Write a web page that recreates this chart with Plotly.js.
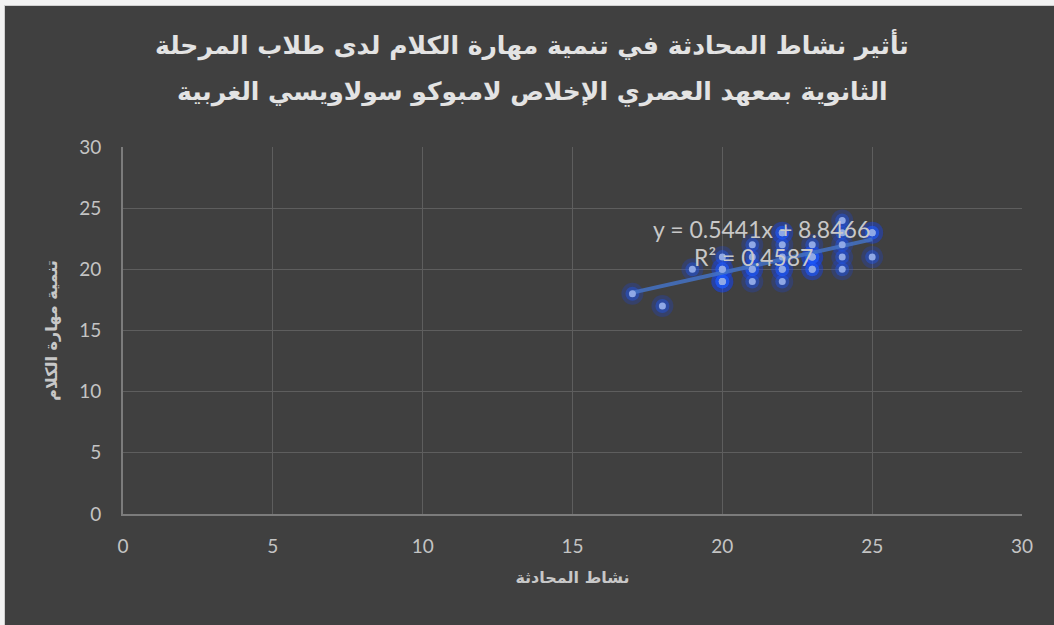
<!DOCTYPE html>
<html><head><meta charset="utf-8">
<script src="https://cdn.plot.ly/plotly-3.0.1.min.js"></script>
<style>
html,body{margin:0;padding:0;background:#f2f2f2;width:1054px;height:625px;overflow:hidden;}
#chart{position:absolute;left:5px;top:6px;width:1049px;height:619px;}
#edge{position:absolute;left:4px;top:5px;width:1050px;height:620px;border-left:1px solid #cfcfcf;border-top:1px solid #cfcfcf;box-sizing:border-box;}
</style></head>
<body><div id="edge"></div><div id="chart"></div>
<script>
const conversationActivity = [17,18,19,20,20,20,20,20,20,21,21,21,21,21,22,22,22,22,22,22,22,23,23,23,23,23,23,24,24,24,24,24,25,25,25];
const speakingSkill       = [18,17,20,21,20,20,19,19,19,22,21,20,20,19,23,23,22,21,20,20,19,22,21,21,21,20,20,24,23,22,21,20,23,23,21];
const trendSlope = 0.5441;
const trendIntercept = 8.8466;
const trendR2 = 0.4587;
const titleLines = ['تأثير نشاط المحادثة في تنمية مهارة الكلام لدى طلاب المرحلة',
                    'الثانوية بمعهد العصري الإخلاص لامبوكو سولاويسي الغربية'];
const xTitle = 'نشاط المحادثة';
const yTitle = 'تنمية مهارة الكلام';

const xMin = Math.min(...conversationActivity), xMax = Math.max(...conversationActivity);
const trendX = [xMin, xMax];
const trendY = trendX.map(v => trendSlope*v + trendIntercept);

const traces = [
  {x: conversationActivity, y: speakingSkill, mode:'markers', type:'scatter',
   marker:{size:22, color:'rgba(20,70,255,0.22)'}, hoverinfo:'skip', showlegend:false},
  {x: conversationActivity, y: speakingSkill, mode:'markers', type:'scatter',
   marker:{size:14, color:'rgba(30,90,255,0.38)'}, hoverinfo:'skip', showlegend:false},
  {x: trendX, y: trendY, mode:'lines', type:'scatter',
   line:{color:'rgba(68,114,196,0.85)', width:4}, showlegend:false},
  {x: conversationActivity, y: speakingSkill, mode:'markers', type:'scatter',
   marker:{size:7, color:'#8fa8e6'}, showlegend:false}
];

const titleFont = {family:'DejaVu Sans', size:25, color:'#e3e3e3', weight:'bold'};
const layout = {
  width:1049, height:619,
  paper_bgcolor:'#404040', plot_bgcolor:'#404040',
  margin:{l:118, r:32, t:141, b:111},
  xaxis:{range:[0,30], dtick:5, showgrid:true, gridcolor:'#5e5e5e', gridwidth:1,
         zeroline:false, showline:true, linecolor:'#7c7c7c', linewidth:2,
         ticks:'', ticklabelstandoff:14, tickfont:{family:'Lato', size:19, color:'#c4c4c4'},
         title:{text:xTitle, standoff:16, font:{family:'DejaVu Sans', size:16, color:'#c8c8c8', weight:'bold'}}},
  yaxis:{range:[0,30], dtick:5, showgrid:true, gridcolor:'#5e5e5e', gridwidth:1,
         zeroline:false, showline:true, linecolor:'#7c7c7c', linewidth:2,
         ticks:'', ticklabelstandoff:16, tickfont:{family:'Lato', size:19, color:'#c4c4c4'},
         title:{text:yTitle, standoff:18, font:{family:'DejaVu Sans', size:16, color:'#c8c8c8', weight:'bold'}}},
  annotations:[
    {xref:'paper', yref:'paper', x:0.455, y:1.278, text:titleLines[0], showarrow:false,
     xanchor:'center', yanchor:'middle', font:titleFont},
    {xref:'paper', yref:'paper', x:0.455, y:1.150, text:titleLines[1], showarrow:false,
     xanchor:'center', yanchor:'middle', font:titleFont},
    {xref:'x', yref:'y', x:21.3, y:23.3, text:'y = '+trendSlope+'x + '+trendIntercept, showarrow:false,
     font:{family:'Lato', size:23, color:'#c8c8c8'}, xanchor:'center', yanchor:'middle'},
    {xref:'x', yref:'y', x:21.05, y:21.0, text:'R² = '+trendR2, showarrow:false,
     font:{family:'Lato', size:23, color:'#c8c8c8'}, xanchor:'center', yanchor:'middle'}
  ]
};
Plotly.newPlot('chart', traces, layout, {displayModeBar:false, staticPlot:true});
</script></body></html>
